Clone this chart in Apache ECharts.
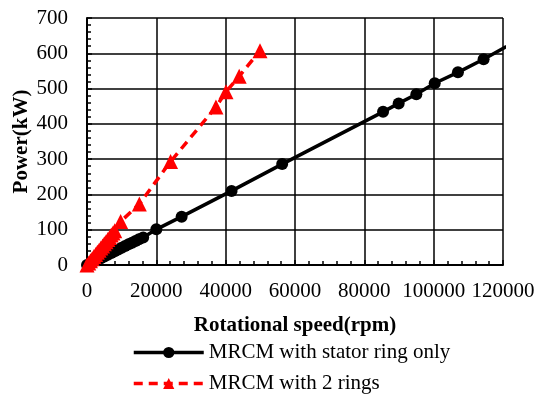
<!DOCTYPE html>
<html>
<head>
<meta charset="utf-8">
<script src="https://cdn.jsdelivr.net/npm/echarts@6/dist/echarts.min.js"></script>
<style>
html,body{margin:0;padding:0;background:#fff;}
#main{width:537px;height:394px;}
</style>
</head>
<body>
<div id="main"></div>
<script>
// rotational speed (rpm) / power (kW)
const statorSpeed = [0, 1000, 2000, 3000, 4000, 5000, 6000, 7000, 8000, 9000, 10000, 11000, 12000, 13000, 14000, 15000, 16200,
  20000, 27300, 41700, 56300, 85400, 89900, 95000, 100300, 107000, 114400, 121000];
const statorPower = [0, 5, 10, 15, 19, 24, 29, 34, 39, 44, 49, 54, 59, 63, 68, 73, 78,
  101, 137, 210, 286, 434, 458, 484, 515, 546, 583, 619];

const ringsSpeed = [0, 500, 1000, 1500, 2000, 2500, 3000, 3500, 4000, 4500, 5000, 5500, 6000, 6500, 7000, 7500, 8000,
  9700, 15100, 24100, 37200, 40100, 43900, 49900];
const ringsPower = [0, 6, 12, 18, 24, 30, 36, 42, 48, 54, 60, 66, 72, 78, 85, 91, 97,
  123, 173, 293, 448, 491, 535, 607];

const seriesNames = ['MRCM with stator ring only', 'MRCM with 2 rings'];

const font = 'Liberation Serif';
const pairs = (xs, ys) => xs.map((x, i) => [x, ys[i]]);

// one legend per row, the reference stacks them
const legendRow = (name, top) => ({
  left: 127,
  top: top,
  itemWidth: 70,
  itemHeight: 14,
  data: [name],
  lineStyle: {width: 3.5},
  textStyle: {fontFamily: font, fontSize: 21, color: '#000'}
});

const axisCommon = {
  type: 'value',
  nameLocation: 'middle',
  nameMoveOverlap: false,
  nameTextStyle: {fontFamily: font, fontSize: 21, fontWeight: 'bold', color: '#000'},
  axisLine: {show: true, lineStyle: {color: '#000', width: 2}},
  axisTick: {show: true, inside: true, length: 5, lineStyle: {color: '#000', width: 1.5}},
  minorTick: {show: true, splitNumber: 5, length: 4, lineStyle: {color: '#000', width: 1.5}},
  splitLine: {show: true, lineStyle: {color: '#000', width: 1.5}}
};

const chart = echarts.init(document.getElementById('main'), null, {renderer: 'canvas'});
chart.setOption({
  animation: false,
  grid: {left: 87, right: 34, top: 18, bottom: 129, outerBoundsMode: 'none'},
  legend: [legendRow(seriesNames[0], 337), legendRow(seriesNames[1], 368)],
  xAxis: Object.assign({}, axisCommon, {
    min: 0, max: 120000, interval: 20000,
    name: 'Rotational speed(rpm)',
    nameGap: 50,
    axisLabel: {fontFamily: font, fontSize: 21, color: '#000', margin: 16, formatter: v => String(v)}
  }),
  yAxis: Object.assign({}, axisCommon, {
    min: 0, max: 700, interval: 100,
    name: 'Power(kW)',
    nameGap: 55,
    axisLabel: {fontFamily: font, fontSize: 21, color: '#000', margin: 19}
  }),
  series: [{
    name: seriesNames[0],
    type: 'line',
    data: pairs(statorSpeed, statorPower),
    clip: true,
    symbol: 'circle',
    symbolSize: 12,
    color: '#000',
    lineStyle: {color: '#000', width: 3.5}
  }, {
    name: seriesNames[1],
    type: 'line',
    data: pairs(ringsSpeed, ringsPower),
    symbol: 'triangle',
    symbolSize: 15,
    color: '#ff0000',
    lineStyle: {color: '#ff0000', width: 3.5, type: [9, 6]}
  }]
});
</script>
</body>
</html>
